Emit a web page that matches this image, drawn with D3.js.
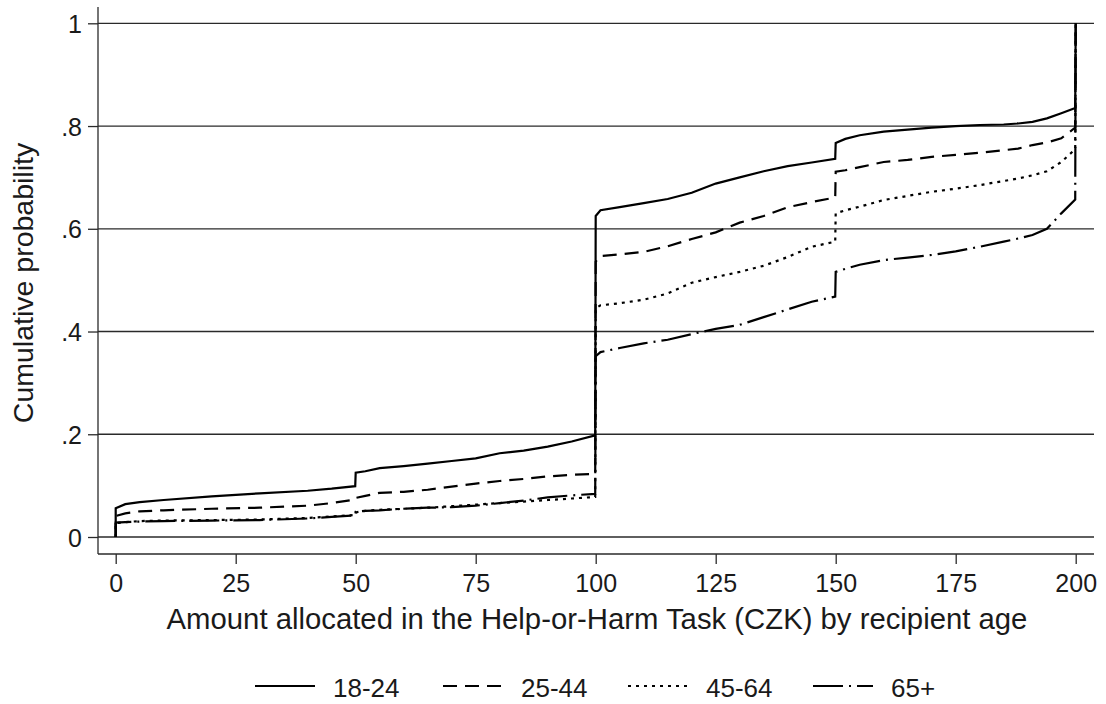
<!DOCTYPE html>
<html>
<head>
<meta charset="utf-8">
<script src="https://cdn.jsdelivr.net/npm/d3@7"></script>
<style>
  html, body { margin: 0; padding: 0; background: #fff; }
  svg { display: block; font-family: "Liberation Sans", Arial, Helvetica, sans-serif; }
</style>
</head>
<body>
<svg id="chart" width="1106" height="704"></svg>
<script>
// ---- data ----
const amounts = [0, 0, 2, 5, 10, 20, 30, 40, 45, 49.9, 50, 52, 55, 60, 65, 70, 75, 80, 85, 90, 95, 99.9,
  100, 101, 105, 110, 115, 120, 125, 130, 135, 140, 145, 149.9, 150, 152, 155, 160, 165, 170, 175, 180,
  185, 188, 191, 194, 197, 199.9, 200];

const age18_24 = [0, .056, .064, .068, .072, .079, .085, .090, .094, .099, .125, .128, .134, .138, .143, .148, .153, .163, .168, .176, .186, .198,
  .625, .636, .642, .650, .658, .670, .688, .700, .712, .722, .729, .736, .767, .775, .782, .789, .793, .797, .800, .802,
  .803, .805, .808, .815, .825, .835, 1];

const age25_44 = [0, .041, .046, .050, .052, .055, .057, .061, .066, .073, .076, .080, .086, .088, .092, .098, .104, .109, .113, .118, .121, .123,
  .536, .547, .550, .555, .566, .580, .593, .612, .625, .642, .652, .661, .711, .714, .720, .730, .734, .740, .744, .748,
  .753, .756, .763, .768, .776, .797, 1];

const age45_64 = [0, .027, .029, .031, .032, .033, .034, .037, .040, .043, .048, .051, .053, .055, .057, .060, .063, .066, .069, .072, .075, .078,
  .445, .451, .455, .462, .474, .495, .506, .516, .528, .545, .565, .575, .630, .636, .643, .656, .664, .672, .678, .685,
  .693, .698, .704, .712, .730, .755, 1];

const age65plus = [0, .028, .029, .030, .031, .032, .033, .036, .039, .042, .049, .051, .052, .055, .057, .058, .061, .066, .071, .077, .081, .084,
  .352, .360, .368, .377, .384, .395, .405, .413, .428, .443, .458, .468, .516, .522, .530, .539, .544, .549, .556, .565,
  .575, .581, .588, .600, .630, .657, 1];

const seriesNames = ["18-24", "25-44", "45-64", "65+"];
const xTicks = [0, 25, 50, 75, 100, 125, 150, 175, 200];
const yTicks = [0, 0.2, 0.4, 0.6, 0.8, 1];
const yTickLabels = ["0", ".2", ".4", ".6", ".8", "1"];
const xTitle = "Amount allocated in the Help-or-Harm Task (CZK) by recipient age";
const yTitle = "Cumulative probability";

// ---- layout ----
const svg = d3.select("#chart");
const axisX = 98, axisY = 554, plotRight = 1094, axisTop = 7;
const x = d3.scaleLinear().domain([0, 200]).range([115.7, 1075.7]);
const y = d3.scaleLinear().domain([0, 1]).range([537, 23.3]);

const ink = "#1a1a1a";
const styles = [
  { dash: null },
  { dash: "14,8" },
  { dash: "3,5" },
  { dash: "30,6,2,6" }
];
const seriesValues = [age18_24, age25_44, age45_64, age65plus];

// gridlines
svg.append("g").selectAll("line").data(yTicks).join("line")
  .attr("x1", axisX).attr("x2", plotRight)
  .attr("y1", d => y(d)).attr("y2", d => y(d))
  .attr("stroke", "#2a2a2a").attr("stroke-width", 1.3);

// y axis
const yAxis = d3.axisLeft(y).tickValues(yTicks).tickSize(10).tickPadding(6)
  .tickFormat((d, i) => yTickLabels[i]);
const gy = svg.append("g").attr("transform", `translate(${axisX},0)`).call(yAxis);
gy.select(".domain").remove();
gy.selectAll(".tick line").attr("stroke", "#2a2a2a").attr("stroke-width", 1.3);
gy.selectAll(".tick text").attr("font-size", 25).attr("fill", ink)
  .attr("font-family", "'Liberation Sans', Arial, sans-serif").attr("dy", "0.36em");
svg.append("line").attr("x1", axisX).attr("x2", axisX).attr("y1", axisTop).attr("y2", axisY)
  .attr("stroke", "#2a2a2a").attr("stroke-width", 1.3);

// x axis
const xAxis = d3.axisBottom(x).tickValues(xTicks).tickSize(10).tickPadding(10).tickFormat(d3.format("d"));
const gx = svg.append("g").attr("transform", `translate(0,${axisY})`).call(xAxis);
gx.select(".domain").remove();
gx.selectAll(".tick line").attr("stroke", "#2a2a2a").attr("stroke-width", 1.3);
gx.selectAll(".tick text").attr("font-size", 25).attr("fill", ink)
  .attr("font-family", "'Liberation Sans', Arial, sans-serif");
svg.append("line").attr("x1", axisX).attr("x2", plotRight).attr("y1", axisY).attr("y2", axisY)
  .attr("stroke", "#2a2a2a").attr("stroke-width", 1.3);

// titles
svg.append("text").attr("x", 597).attr("y", 629).attr("text-anchor", "middle")
  .attr("font-size", 29.3).attr("fill", ink).text(xTitle);
svg.append("text").attr("transform", "translate(33,283) rotate(-90)").attr("text-anchor", "middle")
  .attr("font-size", 28.5).attr("fill", ink).text(yTitle);

// lines
const line = d3.line().x(d => x(d[0])).y(d => y(d[1]));
seriesValues.forEach((vals, i) => {
  const pts = amounts.map((a, j) => [a, vals[j]]);
  svg.append("path").datum(pts)
    .attr("d", line)
    .attr("fill", "none")
    .attr("stroke", "#000")
    .attr("stroke-width", 2.2)
    .attr("stroke-linejoin", "miter")
    .attr("stroke-dasharray", styles[i].dash);
});

// legend
const legendX = [255, 443, 628, 813];
const leg = svg.append("g");
seriesNames.forEach((name, i) => {
  const g = leg.append("g").attr("transform", `translate(${legendX[i]},686)`);
  g.append("line").attr("x1", 0).attr("x2", 60).attr("y1", 0).attr("y2", 0)
    .attr("stroke", "#000").attr("stroke-width", 2.2)
    .attr("stroke-dasharray", styles[i].dash);
  g.append("text").attr("x", 78).attr("y", 11).attr("font-size", 26).attr("fill", ink).text(name);
});
</script>
</body>
</html>
